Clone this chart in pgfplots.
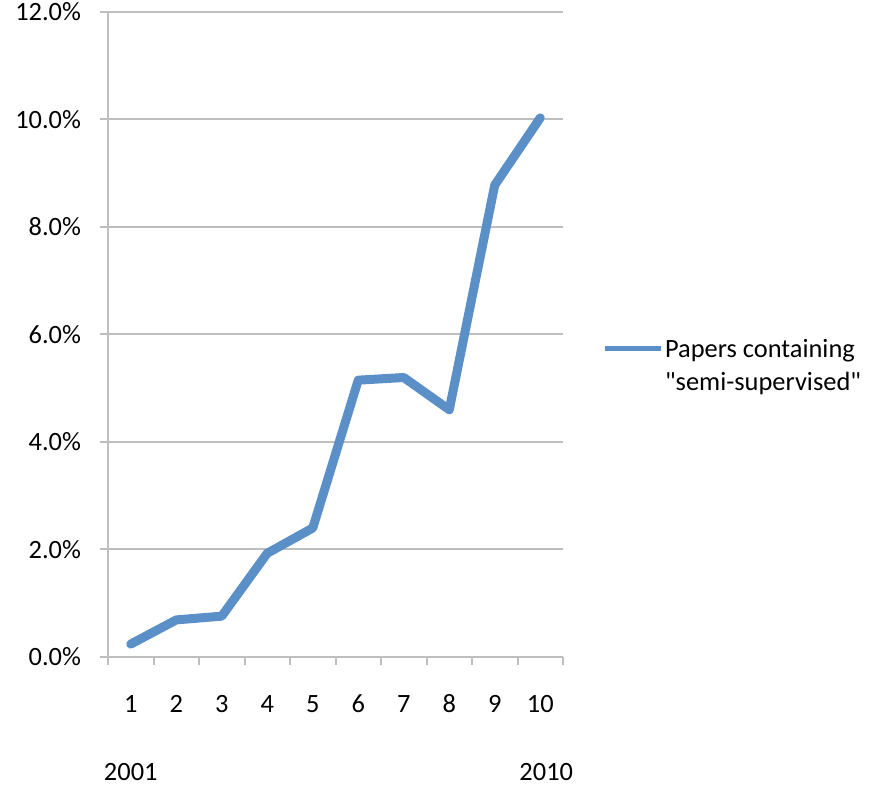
\documentclass[border=0pt]{standalone}
\usepackage{pgfplots}
\pgfplotsset{compat=1.18}
\usepackage{fontspec}
\setmainfont{Carlito}
\newfontfamily\qfont{Carlito}
\definecolor{serblue}{RGB}{91,143,199}
\definecolor{gridgray}{RGB}{190,190,190}
\begin{document}
\begin{tikzpicture}
\path[use as bounding box] (-54pt,-64.5pt) rectangle (381.5pt,328.5pt);
\begin{axis}[
  scale only axis,
  width=227.5pt, height=322.5pt,
  xmin=0.5, xmax=10.5,
  ymin=0, ymax=12,
  clip=false,
  font=\fontsize{13.2}{16.5}\selectfont,
  /pgf/number format/assume math mode=true,
  axis x line*=bottom,
  axis y line*=left,
  axis line style={gridgray, line width=1pt, -},
  xtick={0.5,1.5,...,10.5},
  x tick label as interval,
  xticklabels={1,2,3,4,5,6,7,8,9,10},
  xticklabel style={anchor=center, yshift=-19.5pt},
  ytick={0,2,...,12},
  yticklabel={\pgfmathprintnumber[fixed,fixed zerofill,precision=1]{\tick}\%},
  yticklabel style={anchor=east, xshift=-6pt},
  tick align=outside,
  major tick length=4pt,
  tick style={gridgray, line width=1pt},
  ymajorgrids,
  major grid style={gridgray, line width=1pt},
  legend style={draw=none, at={(rel axis cs:1.072,0.45)}, anchor=west,
    font=\fontsize{13.2}{16.5}\selectfont, nodes={align=left, inner xsep=1pt}},
  legend image post style={yshift=9.25pt},
  legend image code/.code={\draw[#1, line width=2.6pt, line cap=butt] (0cm,0cm) -- (0.98cm,0cm);},
]
\addplot[serblue, line width=4.5pt, line join=round, line cap=round] coordinates {
  (1,0.24) (2,0.69) (3,0.76) (4,1.93) (5,2.40)
  (6,5.15) (7,5.20) (8,4.60) (9,8.78) (10,10.03)
};
\addlegendentry{Papers containing\\{\qfont"semi-supervised"}}
\node[anchor=center] at (axis cs:1,0) [yshift=-57.5pt] {2001};
\node[anchor=center] at (axis cs:10,0) [yshift=-57.5pt, xshift=3pt] {2010};
\end{axis}
\end{tikzpicture}
\end{document}
